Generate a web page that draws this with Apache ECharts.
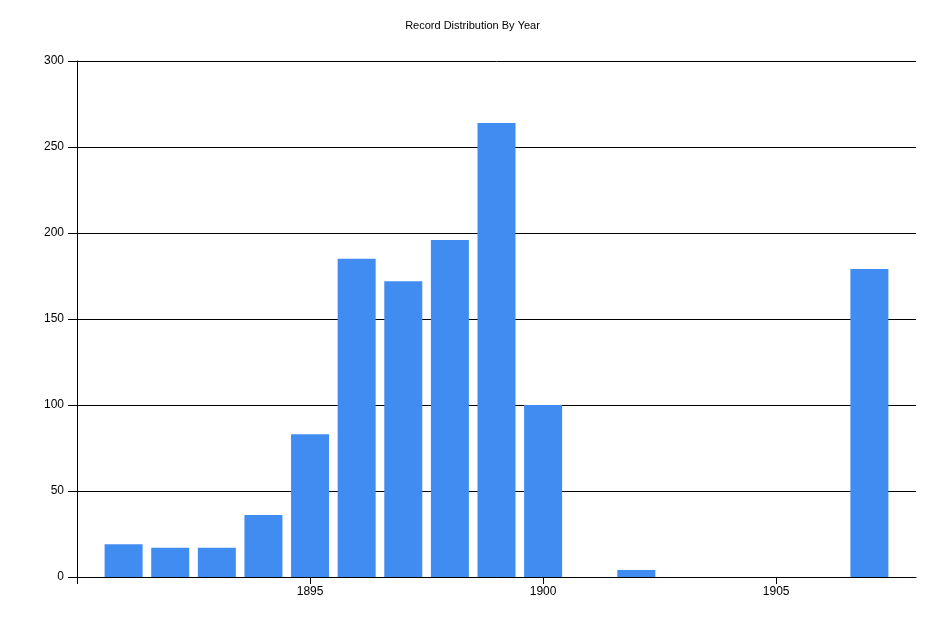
<!DOCTYPE html>
<html>
<head>
<meta charset="utf-8">
<script src="https://cdn.jsdelivr.net/npm/echarts@6/dist/echarts.min.js"></script>
<style>html,body{margin:0;padding:0;background:#fff;}#c{width:945px;height:630px;}</style>
</head>
<body>
<div id="c"></div>
<script>
const years = [1891, 1892, 1893, 1894, 1895, 1896, 1897, 1898, 1899, 1900, 1901, 1902, 1903, 1904, 1905, 1906, 1907];
const counts = [19, 17, 17, 36, 83, 185, 172, 196, 264, 100, 0, 4, 0, 0, 0, 0, 179];
const xLabelValues = [1895, 1900, 1905];
const xTickValues = [1890, 1895, 1900, 1905];
const titleText = 'Record Distribution By Year';

const chart = echarts.init(document.getElementById('c'), null, {renderer: 'canvas'});
const font = 'Liberation Sans, Arial, sans-serif';
chart.setOption({
  animation: false,
  title: {
    text: titleText, left: 'center', top: 15,
    textStyle: {fontFamily: font, fontSize: 11, fontWeight: 'normal', color: '#000'}
  },
  grid: {left: 77, right: 29, top: 61, bottom: 53, containLabel: false},
  xAxis: {
    type: 'value', min: 1890, max: 1908, interval: 5,
    axisLine: {show: true, onZero: false, lineStyle: {color: '#000', width: 1}},
    axisTick: {show: true, length: 7, lineStyle: {color: '#000'}, customValues: xTickValues},
    axisLabel: {color: '#000', fontFamily: font, fontSize: 12, margin: 9, customValues: xLabelValues,
      formatter: v => String(v)},
    splitLine: {show: false}
  },
  yAxis: {
    type: 'value', min: 0, max: 300, interval: 50,
    axisLine: {show: true, lineStyle: {color: '#000', width: 1}},
    axisTick: {show: true, length: 9, lineStyle: {color: '#000'}},
    axisLabel: {color: '#000', fontFamily: font, fontSize: 12, margin: 13},
    splitLine: {show: true, lineStyle: {color: '#000', width: 1}}
  },
  series: [{
    type: 'bar',
    data: years.map((y, i) => [y, counts[i]]),
    barWidth: 38,
    itemStyle: {color: '#418CF0'}
  }]
});
</script>
</body>
</html>
